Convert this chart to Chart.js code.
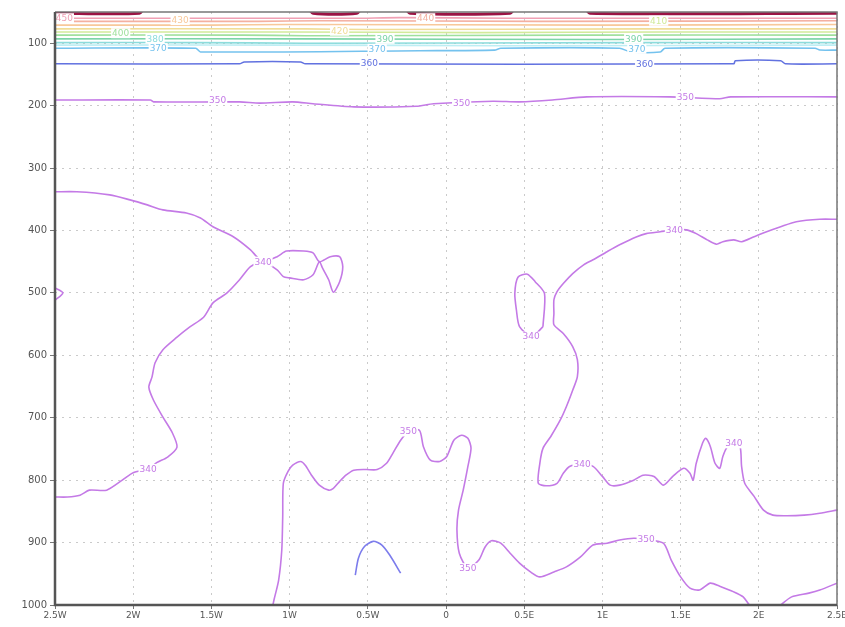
<!DOCTYPE html>
<html>
<head>
<meta charset="utf-8">
<script src="https://cdn.jsdelivr.net/npm/chart.js@4"></script>
<style>
  html, body { margin: 0; padding: 0; background: #fff; }
  canvas { display: block; }
</style>
</head>
<body>
<canvas id="thetaChart" width="845" height="627"></canvas>
<script>
// ── Axis ticks ──
const xTicks      = [-2.5, -2, -1.5, -1, -0.5, 0, 0.5, 1, 1.5, 2, 2.5];
const xTickLabels = ['2.5W', '2W', '1.5W', '1W', '0.5W', '0', '0.5E', '1E', '1.5E', '2E', '2.5E'];
const yTicks      = [100, 200, 300, 400, 500, 600, 700, 800, 900, 1000];
const yTickLabels = ['100', '200', '300', '400', '500', '600', '700', '800', '900', '1000'];

// ── Contour lines: [longitude, pressure hPa] ──
const c460 = [[-2.5,52],[-1.96,52],[-1.92,42],[-0.89,42],[-0.85,52],[-0.57,52],[-0.53,42],[-0.27,42],[-0.23,52],[0.41,52],[0.45,42],[0.88,42],[0.92,52],[2.5,52]];
const c450 = [[-2.5,60],[-0.6,60],[-0.3,59],[0.4,60],[2.5,60]];
const c440 = [[-2.5,65],[-1.2,65],[-0.8,64],[0.6,65],[2.5,64]];
const c430 = [[-2.5,71],[-1.5,71],[-1.0,70],[1.0,71],[2.5,70]];
const c420 = [[-2.5,77],[-0.9,77],[-0.5,78],[1.3,77],[2.5,77]];
const c410 = [[-2.5,82],[-1.0,82],[0.2,83],[1.4,82],[2.5,82]];
const c400 = [[-2.5,87],[-1.3,87],[-0.9,88],[0.9,87],[2.5,87]];
const c390 = [[-2.5,93],[-0.9,93],[1.0,94],[2.5,93]];
const c380 = [[-2.5,99],[-1.6,99],[-0.9,100],[1.2,99],[2.5,99]];
const c375 = [[-2.5,103],[-1.0,103],[0.4,104],[2.5,103]];
const c370 = [[-2.5,108],[-1.6,108],[-1.57,114],[-0.17,112],[0.31,111],[0.35,108],[1.11,108],[1.18,114],[1.37,114],[1.40,108],[2.36,108],[2.39,111],[2.5,111]];
const c360 = [[-2.5,133],[-1.32,133],[-1.29,130],[-0.93,130],[-0.90,133],[1.84,133],[1.85,128],[2.14,128],[2.17,133],[2.5,133]];
const c350Top = [[-2.5,191],[-1.89,191],[-1.87,194],[-1.32,194],[-1.19,196],[-0.98,194],[-0.85,197],[-0.59,202],[-0.19,201],[-0.08,197],[0.30,193],[0.47,194],[0.68,191],[0.90,186],[1.43,186],[1.75,189],[1.82,186],[2.5,186]];

const c340West = [[-2.5,338],[-2.36,338],[-2.15,343],[-2.02,351],[-1.91,359],[-1.81,367],[-1.66,372],[-1.57,380],[-1.49,394],[-1.36,410],[-1.25,431],[-1.21,442],[-1.17,450],[-1.08,442],[-1.02,433],[-0.91,433],[-0.85,436],[-0.81,450],[-0.74,442],[-0.68,442],[-0.66,458],[-0.68,482],[-0.72,499],[-0.75,479],[-0.79,460],[-0.81,450],[-0.85,471],[-0.91,479],[-1.0,476],[-1.04,474],[-1.08,463],[-1.17,450],[-1.25,458],[-1.32,479],[-1.40,500],[-1.49,516],[-1.55,539],[-1.64,555],[-1.72,571],[-1.81,591],[-1.86,612],[-1.88,635],[-1.90,651],[-1.87,672],[-1.81,699],[-1.75,724],[-1.72,747],[-1.78,763],[-1.85,772],[-1.90,782],[-2.0,788],[-2.07,800],[-2.17,816],[-2.28,816],[-2.34,824],[-2.42,827],[-2.5,827]];
const c340Notch = [[-2.5,492],[-2.45,500],[-2.5,512]];
const c340Finger = [[0.62,554],[0.63,501],[0.57,482],[0.52,470],[0.46,475],[0.44,501],[0.45,527],[0.47,554],[0.55,570],[0.62,554]];
const c340East = [[2.5,382],[2.39,382],[2.24,386],[2.14,394],[2.05,402],[1.97,410],[1.89,418],[1.84,415],[1.77,418],[1.73,422],[1.67,415],[1.60,405],[1.54,399],[1.46,399],[1.37,402],[1.28,405],[1.22,410],[1.11,423],[1.03,434],[0.94,447],[0.88,455],[0.81,469],[0.75,485],[0.71,498],[0.69,511],[0.69,533],[0.69,551],[0.75,565],[0.81,586],[0.84,607],[0.84,634],[0.81,656],[0.77,682],[0.73,704],[0.67,730],[0.62,749],[0.60,773],[0.59,805],[0.64,809],[0.71,805],[0.75,789],[0.79,778],[0.87,775],[0.94,778],[1.0,794],[1.05,808],[1.11,808],[1.20,800],[1.26,792],[1.33,794],[1.39,808],[1.45,794],[1.52,781],[1.56,789],[1.58,800],[1.60,773],[1.64,741],[1.66,733],[1.69,746],[1.72,773],[1.75,781],[1.77,762],[1.80,746],[1.84,741],[1.88,746],[1.89,778],[1.91,805],[1.97,826],[2.03,848],[2.09,856],[2.18,857],[2.29,856],[2.39,853],[2.5,848]];
const c350Low = [[-1.11,1004],[-1.10,992],[-1.07,960],[-1.05,912],[-1.044,858],[-1.04,805],[-1.01,786],[-0.98,776],[-0.93,770],[-0.90,776],[-0.86,792],[-0.81,808],[-0.75,816],[-0.72,813],[-0.68,802],[-0.64,792],[-0.59,784],[-0.51,783],[-0.44,783],[-0.38,773],[-0.34,757],[-0.29,736],[-0.24,722],[-0.17,720],[-0.145,746],[-0.10,768],[-0.04,770],[0.005,762],[0.05,736],[0.10,728],[0.14,733],[0.16,749],[0.14,778],[0.11,816],[0.08,848],[0.07,880],[0.085,917],[0.14,941],[0.21,928],[0.25,907],[0.29,897],[0.35,901],[0.41,917],[0.47,933],[0.54,947],[0.60,955],[0.69,947],[0.77,939],[0.86,923],[0.94,904],[1.03,901],[1.11,896],[1.20,893],[1.28,895],[1.39,901],[1.44,928],[1.50,955],[1.56,973],[1.62,976],[1.69,965],[1.75,970],[1.84,979],[1.90,987],[1.94,1000],[1.96,1004]];
const c350LowEast = [[2.12,1004],[2.14,1000],[2.21,987],[2.32,981],[2.39,976],[2.5,965]];
const c360Low = [[-0.58,952],[-0.56,925],[-0.52,906],[-0.465,898],[-0.41,904],[-0.36,920],[-0.29,949]];

const contourLines = [
  [460, c460], [450, c450], [440, c440], [430, c430], [420, c420], [410, c410],
  [400, c400], [390, c390], [380, c380], [375, c375], [370, c370], [360, c360], [350, c350Top],
  [340, c340West], [340, c340Notch], [340, c340Finger], [340, c340East],
  [350, c350Low], [350, c350LowEast], [360, c360Low],
];

// ── Contour labels: [longitude, pressure, level] ──
const contourLabels = [
  [-2.44,60,450],[-1.70,63,430],[-2.08,84,400],[-1.86,93,380],[-1.84,108,370],
  [-0.68,80,420],[-0.39,93,390],[-0.44,109,370],[-0.49,132,360],[-0.13,60,440],
  [1.36,64,410],[1.20,93,390],[1.22,109,370],[1.27,133,360],
  [-1.46,191,350],[0.10,196,350],[1.53,187,350],
  [-1.17,450,340],[-1.905,782,340],[0.544,570,340],[1.46,399,340],[0.87,775,340],[1.84,741,340],
  [-0.24,722,350],[0.14,941,350],[1.28,895,350],
];

// styles per level
const levelColor = {
  460: '#9a1444', 450: '#f0a0b4', 440: '#f4b0a0', 430: '#f8c89a', 420: '#f0dc96',
  410: '#d2ea9a', 400: '#9ee09c', 390: '#7cd4a8', 380: '#8cdcdc', 375: '#bdeef4',
  370: '#74c2ee', 360: '#6272e0', 350: '#c47ae6', 340: '#c47ae6',
};
const lowBlue = '#7c7cec';

const datasets = contourLines.map(([level, pts]) => ({
  label: String(level),
  data: pts.map(([x, y]) => ({ x, y })),
  showLine: true,
  borderColor: pts === c360Low ? lowBlue : levelColor[level],
  borderWidth: level === 460 ? 3 : 1.6,
  pointRadius: 0,
  tension: 0.25,
  fill: false,
  clip: 0,
}));

const contourLabelPlugin = {
  id: 'contourLabels',
  afterDatasetsDraw(chart) {
    const { ctx, scales: { x, y } } = chart;
    ctx.save();
    ctx.font = '9px "DejaVu Sans"';
    ctx.textAlign = 'center';
    ctx.textBaseline = 'middle';
    contourLabels.forEach(([lon, pres, level]) => {
      const px = x.getPixelForValue(lon);
      const py = y.getPixelForValue(pres);
      const text = String(level);
      const w = ctx.measureText(text).width;
      ctx.fillStyle = '#fff';
      ctx.fillRect(px - w / 2 - 1, py - 5, w + 2, 10);
      ctx.fillStyle = levelColor[level];
      ctx.fillText(text, px, py + 0.5);
    });
    ctx.restore();
  },
};

const framePlugin = {
  id: 'frame',
  afterDraw(chart) {
    const { ctx, chartArea: a } = chart;
    ctx.save();
    ctx.strokeStyle = '#777';
    ctx.lineWidth = 1.5;
    ctx.beginPath();
    ctx.moveTo(a.left, a.top);
    ctx.lineTo(a.right, a.top);
    ctx.lineTo(a.right, a.bottom);
    ctx.stroke();
    ctx.strokeStyle = '#555';
    ctx.lineWidth = 2.5;
    ctx.beginPath();
    ctx.moveTo(a.left, a.top);
    ctx.lineTo(a.left, a.bottom);
    ctx.lineTo(a.right, a.bottom);
    ctx.stroke();
    ctx.restore();
  },
};

const tickFont = { family: 'DejaVu Sans', size: 10 };

new Chart(document.getElementById('thetaChart'), {
  type: 'scatter',
  data: { datasets },
  options: {
    responsive: false,
    animation: false,
    devicePixelRatio: 1,
    layout: { padding: { top: 12, right: 8, left: 0, bottom: 0 } },
    plugins: { legend: { display: false }, tooltip: { enabled: false } },
    scales: {
      x: {
        type: 'linear',
        min: -2.5,
        max: 2.5,
        afterBuildTicks: s => { s.ticks = xTicks.map(v => ({ value: v })); },
        afterFit: s => { s.height = 22; s.paddingLeft = 0; s.paddingRight = 0; },
        ticks: {
          callback: (v, i) => xTickLabels[i],
          font: { family: 'DejaVu Sans', size: 9 },
          color: '#555',
          padding: 1,
          maxRotation: 0,
          autoSkip: false,
        },
        grid: { color: '#cacaca', lineWidth: 1, tickLength: 4, tickColor: '#777', tickWidth: 1 },
        border: { display: false, dash: [2, 5] },
      },
      y: {
        type: 'linear',
        reverse: true,
        min: 50,
        max: 1000,
        afterBuildTicks: s => { s.ticks = yTicks.map(v => ({ value: v })); },
        afterFit: s => { s.width = 55; },
        ticks: {
          callback: (v, i) => yTickLabels[i],
          font: tickFont,
          color: '#555',
          padding: 3,
          autoSkip: false,
        },
        grid: { color: '#cacaca', lineWidth: 1, tickLength: 5, tickColor: '#777', tickWidth: 1 },
        border: { display: false, dash: [2, 5] },
      },
    },
  },
  plugins: [contourLabelPlugin, framePlugin],
});
</script>
</body>
</html>
